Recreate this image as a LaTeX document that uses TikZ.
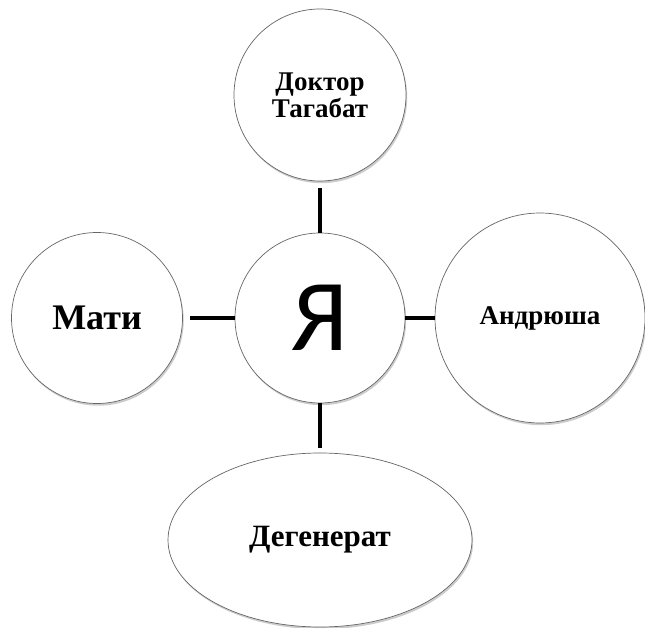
\documentclass[tikz,border=0pt]{standalone}
\usepackage{fontspec}
\newfontfamily\tnrfont{Liberation Serif}
\newfontfamily\carlfont{Carlito}
\usetikzlibrary{shapes.geometric,shadows}
\begin{document}
\begin{tikzpicture}[x=1pt,y=-1pt,
  bubble/.style={draw=black!60,line width=0.7pt,fill=white,inner sep=0pt,
    drop shadow={opacity=0.4,shadow xshift=1.2pt,shadow yshift=-2.2pt}},
  link/.style={line width=4pt,black}]
\useasboundingbox (0,0) rectangle (645,628);
\node[bubble,circle,minimum size=172pt,font=\tnrfont\bfseries\fontsize{27}{27}\selectfont,align=center] (doc) at (320,95) {Доктор\\Тагабат};
\node[bubble,circle,minimum size=170pt,font=\carlfont\fontsize{102}{102}\selectfont] (ya) at (320,318) {Я};
\node[bubble,circle,minimum size=171pt,font=\tnrfont\bfseries\fontsize{36}{38}\selectfont] (mati) at (97,318) {Мати};
\node[bubble,circle,minimum size=210pt,font=\tnrfont\bfseries\fontsize{27}{29}\selectfont] (andr) at (540,318) {Андрюша};
\node[bubble,ellipse,minimum width=304pt,minimum height=174pt,font=\tnrfont\bfseries\fontsize{31}{33}\selectfont] (deg) at (320,540) {Дегенерат};
\draw[link,shorten <=7pt] (doc) -- (ya);
\draw[link,shorten <=7pt] (mati) -- (ya);
\draw[link] (ya) -- (andr);
\draw[link,shorten >=5pt] (ya) -- (deg);
\end{tikzpicture}
\end{document}
